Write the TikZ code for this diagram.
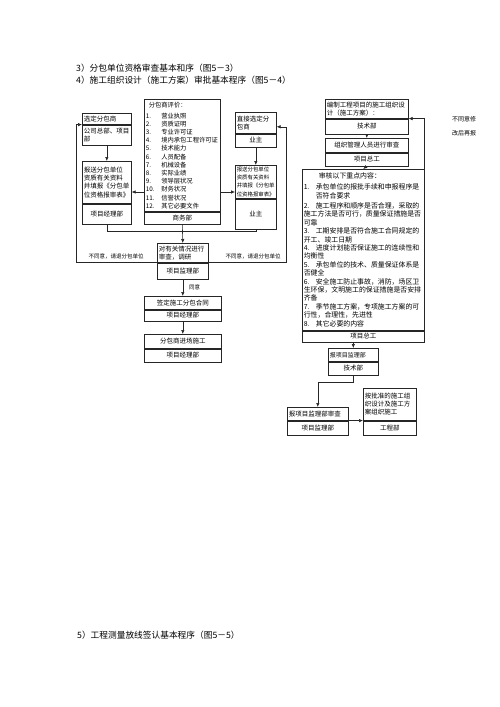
\documentclass[tikz,border=0pt]{standalone}
\usepackage{fontspec}
\setmainfont{Noto Sans CJK SC}
\usetikzlibrary{positioning,arrows.meta}
\newcommand{\boxfont}{\fontsize{6.5}{8.2}\selectfont}
\newcommand{\smallfont}{\fontsize{5.5}{7}\selectfont}
\newcommand{\titlefont}{\fontsize{8.7}{11}\selectfont}
\newcommand{\pitem}[3][15.5pt]{\makebox[#1][l]{#2}#3}

\begin{document}
\begin{tikzpicture}[x=1pt, y=-1pt,
    cell/.style={draw=black!85, line width=0.6pt, inner xsep=1.5pt, inner ysep=1pt, font=\boxfont, align=left},
    hd/.style={cell, anchor=north west},
    ft/.style={cell, align=center, below=0pt of #1},
    arr/.style={draw=black!85, line width=0.6pt, -{Latex[length=4pt,width=3.5pt]}},
    link/.style={draw=black!85, line width=0.6pt},
    lbl/.style={font=\smallfont, inner sep=0pt}]
  \useasboundingbox (0,0) rectangle (500,707);

  \node[anchor=west, font=\titlefont, inner sep=0pt] (t3) at (76,68) {3）分包单位资格审查基本和序（图5－3）};
  \node[anchor=west, font=\titlefont, inner sep=0pt] (t4) at (76,80) {4）施工组织设计（施工方案）审批基本程序（图5－4）};
  \node[anchor=west, font=\titlefont, inner sep=0pt] (t5) at (77,635) {5）工程测量放线签认基本程序（图5－5）};

  % left chart
  \node[hd, text width=46pt, minimum height=11pt] (xuan) at (82,113) {选定分包商};
  \node[ft=xuan, align=left, text width=46pt, minimum height=20pt] (xuan-b) {公司总部、项目\\部};
  \node[hd, text width=46pt, minimum height=42pt] (baosong) at (82,161) {报送分包单位\\资质有关资料\\并填报《分包单\\位资格报审表》};
  \node[ft=baosong, text width=46pt, minimum height=20pt] (baosong-b) {项目经理部};

  \node[hd, text width=73pt, minimum height=112pt, font=\fontsize{6.3}{8.2}\selectfont] (pingjia) at (144,99) {%
    \hspace*{3pt}分包商评价：\\[2.8pt]
    \pitem{1.}{营业执照}\\ \pitem{2.}{资质证明}\\ \pitem{3.}{专业许可证}\\
    \pitem{4.}{境内承包工程许可证}\\ \pitem{5.}{技术能力}\\ \pitem{6.}{人员配备}\\
    \pitem{7.}{机械设备}\\ \pitem{8.}{实际业绩}\\ \pitem{9.}{领导层状况}\\
    \pitem{10.}{财务状况}\\ \pitem{11.}{信誉状况}\\ \pitem{12.}{其它必要文件}};
  \node[ft=pingjia, text width=73pt, minimum height=12pt] (pingjia-b) {商务部};

  \node[hd, text width=38pt, minimum height=21pt] (zhijie) at (235,112) {直接选定分\\包商};
  \node[ft=zhijie, text width=38pt, minimum height=13pt] (zhijie-b) {业主};
  \node[hd, text width=38pt, minimum height=33pt, font=\fontsize{5.4}{8.2}\selectfont] (yezhu) at (235,165) {报送分包单位\\资质有关资料\\并填报《分包单\\位资格报审表》};
  \node[ft=yezhu, text width=38pt, minimum height=30pt] (yezhu-b) {业主};

  \node[hd, text width=48pt, minimum height=19pt] (diaoyan) at (157,243) {对有关情况进行\\审查，调研};
  \node[ft=diaoyan, text width=48pt, minimum height=16pt] (diaoyan-b) {项目监理部};
  \node[hd, align=center, text width=74pt, minimum height=13pt] (hetong) at (144,296) {签定施工分包合同};
  \node[ft=hetong, text width=74pt, minimum height=11pt] (hetong-b) {项目经理部};
  \node[hd, align=center, text width=74pt, minimum height=14pt] (jinchang) at (144,334) {分包商进场施工};
  \node[ft=jinchang, text width=74pt, minimum height=13pt] (jinchang-b) {项目经理部};

  \coordinate (cmid) at (182,192);
  \draw[arr] (xuan-b.south) -- (baosong.north);
  \draw[arr] (zhijie-b.south) -- (yezhu.north);
  \draw[arr] (pingjia.west |- cmid) -- (baosong.east |- cmid);
  \draw[arr] (pingjia.east |- cmid) -- (yezhu.west |- cmid);
  \draw[link] (baosong-b.south) -- ++(0,7) -| (yezhu-b.south);
  \draw[arr] (pingjia-b.south) -- (diaoyan.north);
  \draw[arr] (diaoyan.south west) -- ++(-81,0) |- (xuan.south west);
  \draw[arr] (diaoyan.south east) -- ++(78,0) |- ([yshift=-4pt]zhijie.east);
  \draw[arr] (diaoyan-b.south) -- (hetong.north) node[lbl, midway, right=6pt] (tongyi) {同意};
  \draw[arr] (hetong-b.south) -- (jinchang.north);
  \node[lbl] (butong-l) at (116,256) {不同意，请退分包单位};
  \node[lbl] (butong-r) at (253,256) {不同意，请退分包单位};

  % right chart
  \node[hd, text width=80pt, minimum height=19pt] (bianzhi) at (325,99) {编制工程项目的施工组织设\\计（施工方案）：};
  \node[ft=bianzhi, text width=80pt, minimum height=15pt] (bianzhi-b) {技术部};
  \node[hd, align=center, text width=80pt, minimum height=14pt] (zuzhi) at (325,138) {组织管理人员进行审查};
  \node[ft=zuzhi, text width=80pt, minimum height=13pt] (zuzhi-b) {项目总工};
  \node[hd, text width=119pt, minimum height=161pt, font=\fontsize{6.9}{8.4}\selectfont] (shenhe) at (302,169) {%
    \hspace*{15pt}审核以下重点内容：\\[2pt]
    \pitem[12pt]{1.}{承包单位的报批手续和申报程序是}\\[1pt]
    \hspace*{12pt}否符合要求\\[1.5pt]
    \pitem[12pt]{2.}{施工程序和顺序是否合理，采取的}\\
    施工方法是否可行，质量保证措施是否\\
    可靠\\
    \pitem[12pt]{3.}{工期安排是否符合施工合同规定的}\\
    开工、竣工日期\\
    \pitem[12pt]{4.}{进度计划能否保证施工的连续性和}\\
    均衡性\\
    \pitem[12pt]{5.}{承包单位的技术、质量保证体系是}\\
    否健全\\
    \pitem[12pt]{6.}{安全施工防止事故，消防，场区卫}\\
    生环保，文明施工的保证措施是否安排\\
    齐备\\
    \pitem[12pt]{7.}{季节施工方案，专项施工方案的可}\\
    行性，合理性，先进性\\
    \pitem[12pt]{8.}{其它必要的内容}};
  \node[ft=shenhe, text width=119pt, minimum height=11pt] (shenhe-b) {项目总工};

  \node[hd, text width=47pt, minimum height=13pt, font=\fontsize{6}{8}\selectfont] (baojl) at (328,348) {报项目监理部};
  \node[ft=baojl, text width=47pt, minimum height=13pt] (baojl-b) {技术部};
  \node[hd, text width=58pt, minimum height=13pt] (baosc) at (287,407) {报项目监理部审查};
  \node[ft=baosc, text width=58pt, minimum height=14pt] (baosc-b) {项目监理部};
  \node[hd, text width=50pt, minimum height=32pt] (anpz) at (363,388) {按批准的施工组\\织设计及施工方\\案组织施工};
  \node[ft=anpz, text width=50pt, minimum height=14pt] (anpz-b) {工程部};

  \draw[arr] (bianzhi-b.south) -- (zuzhi.north);
  \draw[arr] (zuzhi-b.south) -- (shenhe.north);
  \draw[arr] (shenhe.north east) |- (bianzhi.south east);
  \draw[arr] (shenhe-b.south -| baojl.north) -- (baojl.north);
  \draw[arr] (baojl-b.south) -- ++(0,7) -| (baosc.north);
  \draw[arr] (baosc.south east) -- (anpz.south west);
  \node[lbl, align=center, font=\fontsize{6}{14}\selectfont] (xiugai) at (464,126) {不同意修\\改后再报};
\end{tikzpicture}
\end{document}
